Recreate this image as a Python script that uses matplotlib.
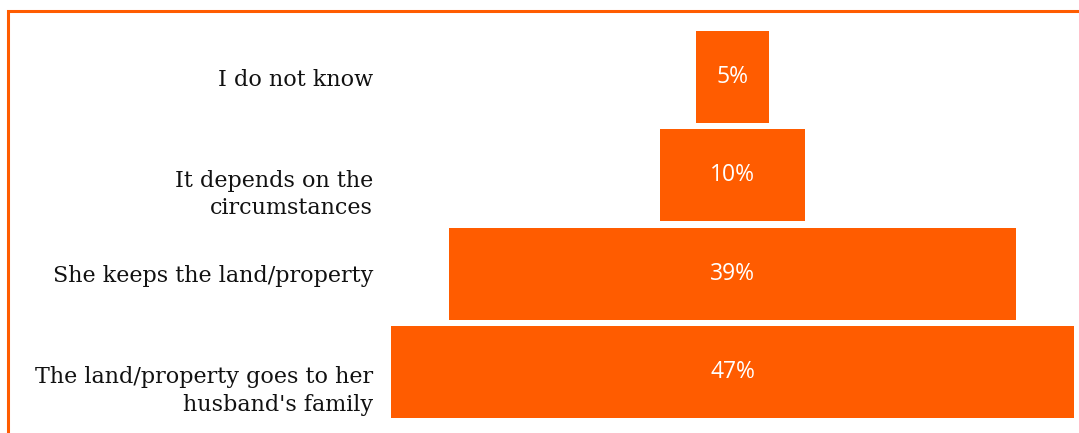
import matplotlib
matplotlib.use("Agg")
import matplotlib.pyplot as plt
from matplotlib.patches import Rectangle
from matplotlib.transforms import blended_transform_factory, offset_copy

# answers, top to bottom
answers = ["I do not know",
           "It depends on the\ncircumstances",
           "She keeps the land/property",
           "The land/property goes to her\nhusband's family"]
shares = [5, 10, 39, 47]

ORANGE = "#ff5c00"
H = 0.936
LINE_PX = 28

fig = plt.figure(figsize=(10.79, 4.33), dpi=100)

# frame around the chart (runs off the right and bottom edges)
fig.patches.append(Rectangle((7.5 / 1079, -0.1), 1.2, 1 - 10.5 / 433 + 0.1,
                             transform=fig.transFigure, fill=False,
                             edgecolor=ORANGE, linewidth=2.2))

ax = fig.add_axes([391 / 1079, 1 - 418 / 433, 683 / 1079, 387 / 433])
pos = list(range(len(shares)))
lefts = [-v / 2 for v in shares]
ax.barh(pos, shares, left=lefts, height=H, color=ORANGE)

for y, v in zip(pos, shares):
    ax.text(0, y, f"{v}%", ha="center", va="center", color="white",
            fontsize=16.5, family="Open Sans")

# category names right-aligned left of the bars, first line near the bar centre
base = blended_transform_factory(ax.transAxes, ax.transData)
for y, name in zip(pos, answers):
    extra = name.count("\n")
    trans = offset_copy(base, fig=fig, x=-18, y=-extra * LINE_PX / 2,
                        units="dots")
    ax.text(0, y, name, transform=trans, ha="right", va="center_baseline",
            multialignment="right", family="DejaVu Serif", fontsize=16,
            color="#111111", linespacing=1.3)

ax.set_xlim(-max(shares) / 2, max(shares) / 2)
ax.set_ylim(len(shares) - 1 + H / 2, -H / 2)
ax.set_xticks([])
ax.set_yticks([])
for s in ax.spines.values():
    s.set_visible(False)

fig.savefig("out.png", dpi=100)
